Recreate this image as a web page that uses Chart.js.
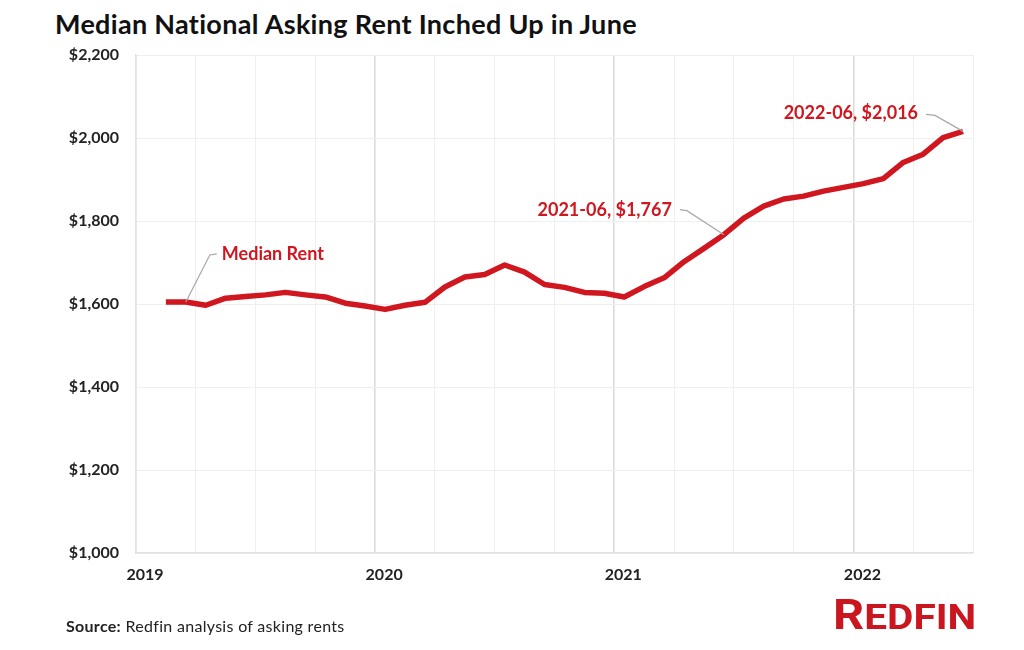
<!DOCTYPE html>
<html>
<head>
  <meta charset="utf-8" />
  <title>Median National Asking Rent</title>
  <script src="https://cdn.jsdelivr.net/npm/chart.js"></script>
  <style>
    html, body { margin: 0; padding: 0; background: #fff; }
    .wrap { position: relative; width: 1024px; height: 650px; overflow: hidden; }
    .title {
      position: absolute; left: 55px; top: 8px;
      font: 700 27px Lato, sans-serif; color: #111; line-height: 32px;
      letter-spacing: 0.3px;
    }
    .source {
      position: absolute; left: 66px; top: 616px;
      font: 400 16px Lato, sans-serif; color: #222; line-height: 20px;
      letter-spacing: 0.3px;
    }
    .source b { font-weight: 700; }
    .logo {
      position: absolute; left: 833px; top: 595px;
      font-family: 'Liberation Sans Narrow', 'Roboto', sans-serif; font-weight: 700;
      color: #c9161f; line-height: 40px;
      transform: scaleX(1.16); transform-origin: left center;
    }
    .logo .big { font-size: 42px; }
    .logo .small { font-size: 35px; }
    canvas { position: absolute; left: 0; top: 0; }
  </style>
</head>
<body>
<div class="wrap">
  <div class="title">Median National Asking Rent Inched Up in June</div>
  <canvas id="rentChart" width="1024" height="650"></canvas>
  <div class="source"><b>Source:</b> Redfin analysis of asking rents</div>
  <div class="logo"><span class="big">R</span><span class="small">EDFIN</span></div>
</div>

<script>
  // monthly median asking rent, Feb 2019 - Jun 2022
  const months = [
    '2019-02', '2019-03', '2019-04', '2019-05', '2019-06', '2019-07', '2019-08', '2019-09', '2019-10', '2019-11', '2019-12',
    '2020-01', '2020-02', '2020-03', '2020-04', '2020-05', '2020-06', '2020-07', '2020-08', '2020-09', '2020-10', '2020-11', '2020-12',
    '2021-01', '2021-02', '2021-03', '2021-04', '2021-05', '2021-06', '2021-07', '2021-08', '2021-09', '2021-10', '2021-11', '2021-12',
    '2022-01', '2022-02', '2022-03', '2022-04', '2022-05', '2022-06'
  ];
  const medianRent = [
    1605, 1605, 1597, 1614, 1618, 1622, 1628, 1622, 1617, 1602, 1595,
    1587, 1597, 1604, 1641, 1665, 1671, 1694, 1677, 1647, 1640, 1628, 1626,
    1617, 1642, 1663, 1702, 1734, 1767, 1807, 1836, 1853, 1860, 1872, 1881,
    1890, 1902, 1941, 1961, 2001, 2016
  ];
  const yearLabels = ['2019', '2020', '2021', '2022'];
  const yTicks = [1000, 1200, 1400, 1600, 1800, 2000, 2200];

  // callouts: which month they point at and the text shown
  const callouts = [
    { month: '2019-03', text: 'Median Rent', side: 'right' },
    { month: '2021-06', text: '2021-06, $1,767', side: 'left' },
    { month: '2022-06', text: '2022-06, $2,016', side: 'left' }
  ];

  const red = '#d0161f';
  const firstYear = parseInt(yearLabels[0]);

  // months since Jan 2019, plotted at mid-month
  function monthPos(m) {
    const parts = m.split('-');
    return (parseInt(parts[0]) - firstYear) * 12 + (parseInt(parts[1]) - 1) + 0.5;
  }

  const points = months.map((m, i) => ({ x: monthPos(m), y: medianRent[i] }));

  const calloutPlugin = {
    id: 'callouts',
    afterDatasetsDraw(chart) {
      const c = chart.ctx;
      const xs = chart.scales.x, ys = chart.scales.y;
      c.save();
      c.font = '700 18px Lato, sans-serif';
      c.textBaseline = 'middle';
      callouts.forEach(co => {
        const i = months.indexOf(co.month);
        const px = xs.getPixelForValue(monthPos(co.month));
        const py = ys.getPixelForValue(medianRent[i]);
        let elbow, end, tx, ty;
        if (co.side === 'right') {
          elbow = [px + 24, py - 47];
          end = [px + 31, py - 48];
          tx = px + 36; ty = py - 48;
          c.textAlign = 'left';
        } else if (co.month === '2021-06') {
          elbow = [px - 37, py - 24];
          end = [px - 44, py - 25];
          tx = px - 52; ty = py - 25;
          c.textAlign = 'right';
        } else {
          elbow = [px - 28, py - 16];
          end = [px - 37, py - 17];
          tx = px - 45; ty = py - 18;
          c.textAlign = 'right';
        }
        c.strokeStyle = '#a8a8a8';
        c.lineWidth = 1.2;
        c.beginPath();
        c.moveTo(px, py);
        c.lineTo(elbow[0], elbow[1]);
        c.lineTo(end[0], end[1]);
        c.stroke();
        c.fillStyle = red;
        c.fillText(co.text, tx, ty);
      });
      c.restore();
    }
  };

  const ctx = document.getElementById('rentChart').getContext('2d');
  const rentChart = new Chart(ctx, {
    type: 'line',
    data: {
      datasets: [{
        label: 'Median Rent',
        data: points,
        borderColor: red,
        borderWidth: 5.5,
        borderJoinStyle: 'round',
        borderCapStyle: 'butt',
        pointRadius: 0,
        tension: 0,
        fill: false
      }]
    },
    options: {
      responsive: false,
      animation: false,
      layout: { padding: { top: 55, right: 51, bottom: 0, left: 0 } },
      plugins: {
        legend: { display: false },
        tooltip: { enabled: false }
      },
      scales: {
        x: {
          type: 'linear',
          min: 0,
          max: 42,
          afterFit: s => { s.height = 97; },
          afterBuildTicks: s => {
            const t = [];
            for (let v = 0; v <= 42; v += 3) t.push({ value: v });
            s.ticks = t;
          },
          ticks: {
            autoSkip: false,
            maxRotation: 0,
            padding: 12,
            labelOffset: 9,
            color: '#222',
            font: { family: 'Lato, sans-serif', size: 16, weight: '700' },
            callback: v => (v % 12 === 0 ? yearLabels[v / 12] : '')
          },
          grid: {
            drawTicks: false,
            lineWidth: c => (c.tick && c.tick.value % 12 === 0 && c.tick.value > 0 ? 1.6 : 1),
            color: c => (c.tick && c.tick.value % 12 === 0 && c.tick.value > 0 ? '#dcdcdc' : '#efefef')
          },
          border: { color: '#e2e2e2', width: 1.5 }
        },
        y: {
          min: 1000,
          max: 2200,
          afterFit: s => { s.width = 136; },
          afterBuildTicks: s => { s.ticks = yTicks.map(v => ({ value: v })); },
          ticks: {
            padding: 17,
            color: '#222',
            font: { family: 'Lato, sans-serif', size: 16, weight: '700' },
            callback: v => '$' + v.toLocaleString('en-US')
          },
          grid: { drawTicks: false, color: '#efefef', lineWidth: 1 },
          border: { color: '#e2e2e2', width: 1.5 }
        }
      }
    },
    plugins: [calloutPlugin]
  });
</script>
</body>
</html>
